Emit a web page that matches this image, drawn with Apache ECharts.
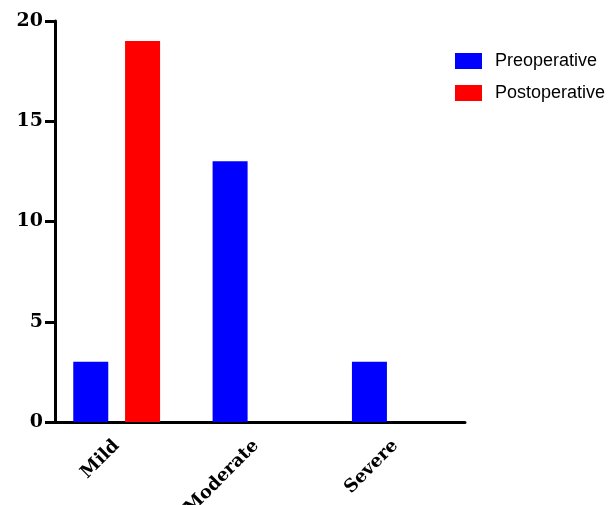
<!DOCTYPE html>
<html>
<head>
<meta charset="utf-8">
<script src="https://cdn.jsdelivr.net/npm/echarts@6/dist/echarts.min.js"></script>
<style>html,body{margin:0;padding:0;background:#fff}#c{width:614px;height:505px}</style>
</head>
<body>
<div id="c"></div>
<script>
const categories = ['Mild', 'Moderate', 'Severe'];
const preoperative = [3, 13, 3];
const postoperative = [19, 0, 0];
const seriesNames = ['Preoperative', 'Postoperative'];

const chart = echarts.init(document.getElementById('c'), null, {renderer: 'canvas'});
chart.setOption({
  animation: false,
  grid: {left: 47, top: 21, width: 418, height: 401, containLabel: false, outerBoundsMode: 'none'},
  legend: {
    orient: 'vertical',
    left: 450, top: 47,
    itemWidth: 27, itemHeight: 16, itemGap: 14,
    icon: 'rect',
    textStyle: {fontFamily: 'Liberation Sans', fontSize: 18, color: '#000', padding: [0, 0, 0, 8]},
    data: seriesNames
  },
  xAxis: {
    type: 'category',
    data: categories,
    axisLine: {lineStyle: {color: '#000', width: 3}},
    axisTick: {show: false},
    axisLabel: {rotate: 45, margin: 21, fontFamily: 'DejaVu Serif', fontWeight: 'bold', fontSize: 18, color: '#000'}
  },
  yAxis: {
    type: 'value',
    min: 0, max: 20, interval: 5,
    offset: -8,
    axisLine: {show: true, lineStyle: {color: '#000', width: 3}},
    axisTick: {show: true, length: 10, lineStyle: {color: '#000', width: 3}},
    splitLine: {show: false},
    axisLabel: {margin: 12, fontFamily: 'DejaVu Serif', fontWeight: 'bold', fontSize: 19, color: '#000'}
  },
  series: [
    {name: seriesNames[0], type: 'bar', data: preoperative, barWidth: 35, barGap: '48%', itemStyle: {color: '#0000FF'}},
    {name: seriesNames[1], type: 'bar', data: postoperative, barWidth: 35, barGap: '48%', itemStyle: {color: '#FF0000'}}
  ]
});
</script>
</body>
</html>
